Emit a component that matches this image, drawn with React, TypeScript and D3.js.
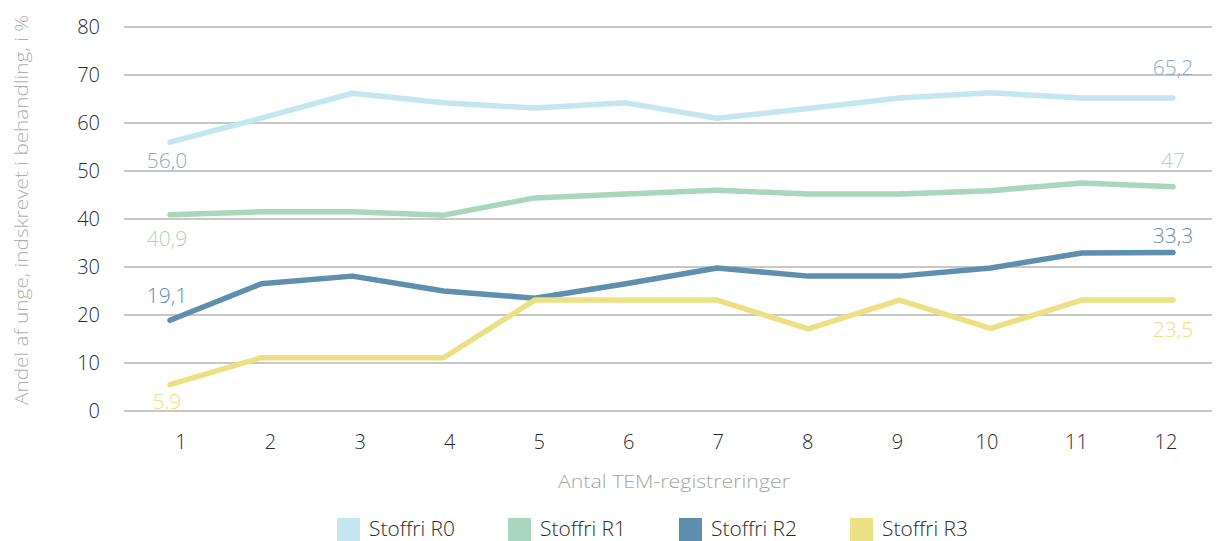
import React from 'react'
import * as d3 from 'd3'

const registrations = [1, 2, 3, 4, 5, 6, 7, 8, 9, 10, 11, 12]
const yTicks = [0, 10, 20, 30, 40, 50, 60, 70, 80]

const seriesNames = ['Stoffri R0', 'Stoffri R1', 'Stoffri R2', 'Stoffri R3']
const r0 = [56.0, 61, 66.2, 64.2, 63.1, 64.2, 61, 63, 65.2, 66.3, 65.2, 65.2]
const r1 = [40.9, 41.5, 41.5, 40.8, 44.4, 45.2, 46, 45.2, 45.2, 45.9, 47.5, 46.7]
const r2 = [18.9, 26.5, 28.1, 25, 23.5, 26.5, 29.8, 28.1, 28.1, 29.8, 32.9, 33.0]
const r3 = [5.5, 11.1, 11.1, 11.1, 23.1, 23.1, 23.1, 17.1, 23.1, 17.2, 23.1, 23.1]
const firstLabels = ['56,0', '40,9', '19,1', '5,9']
const lastLabels = ['65,2', '47', '33,3', '23,5']

const lineColors = ['#c3e6ef', '#a9d6bd', '#5f8fae', '#ece084']
const labelColors = ['#8eaac6', '#a9d6bd', '#5f8fae', '#ece084']
// vertical offset of the end labels from the line (px)
const firstDy = [26, 31, -17, 24]
const lastDy = [-23, -19, -10, 37]

const font = '"Open Sans", "Noto Sans", sans-serif'

export default function App() {
  const width = 1216
  const height = 541
  const values = [r0, r1, r2, r3]

  const x = d3.scaleLinear().domain([1, 12]).range([170, 1173])
  const xLabel = d3.scaleLinear().domain([1, 12]).range([181, 1166])
  const y = d3.scaleLinear().domain([0, 80]).range([411, 27])

  const line = d3
    .line<number>()
    .x((_, i) => x(registrations[i]))
    .y((d) => y(d))

  // legend items laid out on a band scale
  const legend = d3.scaleBand().domain(seriesNames).range([337, 1021])

  return (
    <svg
      width={width}
      height={height}
      style={{ position: 'absolute', left: 0, top: 0, fontFamily: font, fontWeight: 300 }}
    >
      <rect width={width} height={height} fill="#fff" />
      {yTicks.map((t) => (
        <g key={t}>
          <line x1={124} x2={1212} y1={y(t)} y2={y(t)} stroke="#b5b5b5" strokeWidth={1.5} />
          <text x={100} y={y(t)} dy="0.36em" textAnchor="end" fontSize={20} fill="#2b2b2b">
            {t}
          </text>
        </g>
      ))}
      {registrations.map((r) => (
        <text key={r} x={xLabel(r)} y={449} textAnchor="middle" fontSize={20} fill="#2b2b2b">
          {r}
        </text>
      ))}
      <text
        transform="translate(28,210) rotate(-90)"
        textAnchor="middle"
        fontSize={19}
        textLength={390}
        lengthAdjust="spacingAndGlyphs"
        fill="#b0b0b0"
      >
        Andel af unge, indskrevet i behandling, i %
      </text>
      <text
        x={674}
        y={488}
        textAnchor="middle"
        fontSize={19}
        textLength={232}
        lengthAdjust="spacingAndGlyphs"
        fill="#a5a5a5"
      >
        Antal TEM-registreringer
      </text>
      {values.map((v, i) => (
        <path
          key={i}
          d={line(v) || ''}
          fill="none"
          stroke={lineColors[i]}
          strokeWidth={5.5}
          strokeLinecap="round"
          strokeLinejoin="round"
        />
      ))}
      {values.map((v, i) => (
        <g key={'l' + i} fontSize={21} fill={labelColors[i]} textAnchor="middle">
          <text x={x(1) - 3} y={y(v[0]) + firstDy[i]}>
            {firstLabels[i]}
          </text>
          <text x={x(12)} y={y(v[11]) + lastDy[i]}>
            {lastLabels[i]}
          </text>
        </g>
      ))}
      {seriesNames.map((s, i) => (
        <g key={s} transform={`translate(${legend(s)},518)`}>
          <rect width={23} height={23} fill={lineColors[i]} />
          <text
            x={32}
            y={18}
            fontSize={21}
            textLength={86}
            lengthAdjust="spacingAndGlyphs"
            fill="#2b2b2b"
          >
            {s}
          </text>
        </g>
      ))}
    </svg>
  )
}
